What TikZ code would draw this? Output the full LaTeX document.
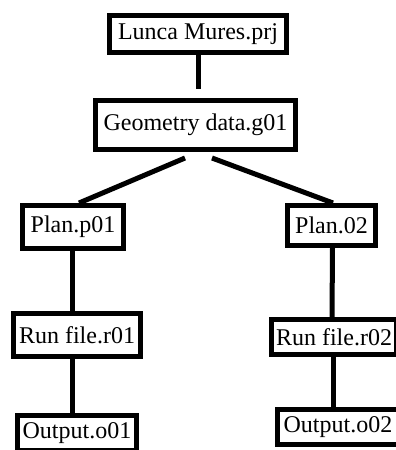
\documentclass[tikz,border=0pt]{standalone}
\usepackage{fontspec}
\setmainfont{Liberation Serif}
\usepackage{tikz}

\begin{document}
\begin{tikzpicture}[x=1pt,y=-1pt,inner sep=0pt,line width=5pt,
  filebox/.style={rectangle,draw=black,fill=white,font=\fontsize{24}{28}\selectfont}]
\useasboundingbox (0,0) rectangle (396,450);
%Node Coordinates
\node at (198,34) [filebox,minimum width=177pt,minimum height=37pt] (Prj) {Lunca Mures.prj};
\node at (195.5,125) [filebox,minimum width=200pt,minimum height=49pt] (Geom) {Geometry data.g01};
\node at (73,227) [filebox,minimum width=101pt,minimum height=43pt] (PlanA) {Plan.p01};
\node at (331.5,225.5) [filebox,minimum width=88pt,minimum height=40pt] (PlanB) {Plan.02};
\node at (77,335) [filebox,minimum width=127pt,minimum height=43pt] (RunA) {Run file.r01};
\node at (334,337) [filebox,minimum width=125pt,minimum height=35pt] (RunB) {Run file.r02};
\node at (77,433) [filebox,minimum width=119pt,minimum height=35pt] (OutA) {Output.o01};
\node at (338,427) [filebox,minimum width=121pt,minimum height=35pt] (OutB) {Output.o02};

%Connections
\draw (Prj.south) -- ([yshift=9pt]Geom.north -| Prj.south);
\draw ([xshift=-10.5pt,yshift=-6pt]Geom.south) -- ([xshift=6pt]PlanA.north);
\draw ([xshift=16.5pt,yshift=-6pt]Geom.south) -- ([xshift=1.5pt]PlanB.north);
\draw ([xshift=-1pt]PlanA.south) -- ([xshift=-5pt]RunA.north);
\draw ([xshift=-5pt]RunA.south) -- ([xshift=-5pt]OutA.north);
\draw ([xshift=1pt]PlanB.south) -- ([xshift=-2pt]RunB.north);
\draw ([xshift=-0.5pt]RunB.south) -- ([xshift=-4.5pt]OutB.north);
\end{tikzpicture}
\end{document}
